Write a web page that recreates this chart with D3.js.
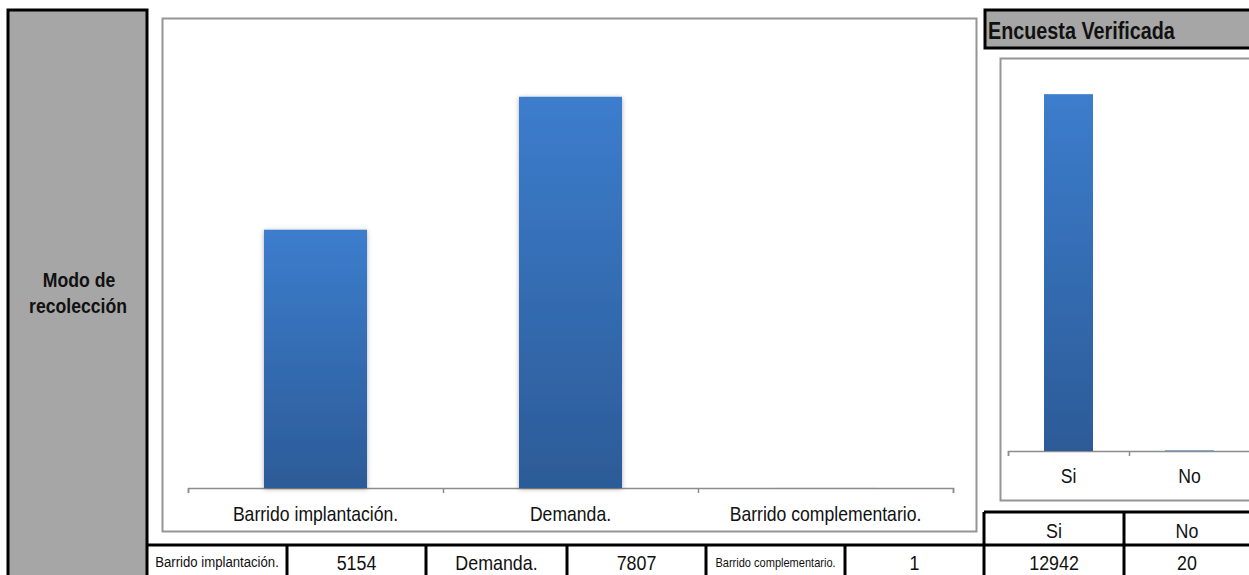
<!DOCTYPE html>
<html lang="es">
<head>
<meta charset="UTF-8">
<title>Modo de recolección</title>
<script src="https://cdn.jsdelivr.net/npm/d3@7"></script>
<style>
  body { margin: 0; background: #fff; }
  svg text { font-family: "Liberation Sans Narrow", "Arial Narrow", "Liberation Sans", sans-serif; fill: #111; }
</style>
</head>
<body>
<svg width="1249" height="575"></svg>
<script>
  // data
  const categories = ['Barrido implantación.', 'Demanda.', 'Barrido complementario.'];
  const counts = [5154, 7807, 1];
  const verifyCats = ['Si', 'No'];
  const verifyCounts = [12942, 20];

  const narrow = 0.85; // no Arial Narrow here, squeeze Liberation Sans instead

  const svg = d3.select('svg');
  const defs = svg.append('defs');

  const grad = defs.append('linearGradient')
      .attr('id', 'barGrad').attr('x1', 0).attr('y1', 0).attr('x2', 0).attr('y2', 1);
  grad.append('stop').attr('offset', '0%').attr('stop-color', '#3c7dcd');
  grad.append('stop').attr('offset', '100%').attr('stop-color', '#2c5b97');

  const shadow = defs.append('filter').attr('id', 'shadow')
      .attr('x', '-20%').attr('y', '-5%').attr('width', '140%').attr('height', '110%');
  shadow.append('feDropShadow').attr('dx', 0).attr('dy', 1)
      .attr('stdDeviation', 2.5).attr('flood-color', '#000').attr('flood-opacity', 0.3);

  // text placed at (x, y) and squeezed horizontally
  function label(parent, x, y, text, size, opts = {}) {
    return parent.append('g')
        .attr('transform', `translate(${x},${y}) scale(${opts.sx || narrow},1)`)
      .append('text')
        .attr('text-anchor', opts.anchor || 'middle')
        .attr('font-size', size)
        .attr('font-weight', opts.bold ? 'bold' : null)
        .text(text);
  }

  // left grey title block
  svg.append('rect')
      .attr('x', 8).attr('y', 10).attr('width', 139).attr('height', 580)
      .attr('fill', '#a6a6a6').attr('stroke', '#000').attr('stroke-width', 3);
  label(svg, 79, 287, 'Modo de', 21, {bold: true, sx: 0.84});
  label(svg, 78, 313, 'recolección', 21, {bold: true, sx: 0.84});

  // main chart
  svg.append('rect')
      .attr('x', 162.5).attr('y', 18.5).attr('width', 814).attr('height', 513)
      .attr('fill', '#fff').attr('stroke', '#959595').attr('stroke-width', 2);

  const x = d3.scaleBand()
      .domain(categories)
      .range([188, 953])
      .paddingInner(0.596)
      .paddingOuter(0.298);

  const y = d3.scaleLinear()
      .domain([0, 9000])
      .range([488, 37]);

  const xTicks = d3.scaleLinear().domain([0, categories.length]).range([188, 953]);

  svg.append('g')
      .attr('transform', 'translate(0,488)')
      .call(d3.axisBottom(xTicks).ticks(categories.length).tickFormat('').tickSize(5).tickSizeOuter(5))
      .call(g => g.selectAll('path, line').attr('stroke', '#8c8c8c').attr('stroke-width', 1.5));

  svg.append('g')
      .attr('transform', 'translate(0,488)')
      .call(d3.axisBottom(x).tickSize(0).tickPadding(19))
      .call(g => g.select('.domain').remove())
      .call(g => g.selectAll('text')
          .attr('font-size', 20).attr('font-family', null).attr('fill', '#111')
          .attr('transform', `scale(${narrow + 0.03},1)`));

  svg.append('g')
      .selectAll('rect').data(counts).join('rect')
      .attr('x', (d, i) => x(categories[i]))
      .attr('y', d => y(d))
      .attr('width', x.bandwidth())
      .attr('height', d => y(0) - y(d))
      .attr('fill', 'url(#barGrad)')
      .attr('filter', 'url(#shadow)');

  // right panel
  svg.append('rect')
      .attr('x', 985).attr('y', 10).attr('width', 290).attr('height', 38)
      .attr('fill', '#a6a6a6').attr('stroke', '#000').attr('stroke-width', 3);
  label(svg, 988, 39, 'Encuesta Verificada', 23, {bold: true, anchor: 'start', sx: 0.86});

  svg.append('rect')
      .attr('x', 1000.5).attr('y', 58.5).attr('width', 300).attr('height', 442)
      .attr('fill', '#fff').attr('stroke', '#959595').attr('stroke-width', 2);

  const x2 = d3.scaleBand()
      .domain(verifyCats)
      .range([1008, 1250])
      .paddingInner(0.595)
      .paddingOuter(0.2975);

  const y2 = d3.scaleLinear()
      .domain([0, 14000])
      .range([451, 65]);

  const x2Ticks = d3.scaleLinear().domain([0, verifyCats.length]).range([1008, 1250]);

  svg.append('g')
      .attr('transform', 'translate(0,451)')
      .call(d3.axisBottom(x2Ticks).ticks(verifyCats.length).tickFormat('').tickSize(5).tickSizeOuter(5))
      .call(g => g.selectAll('path, line').attr('stroke', '#8c8c8c').attr('stroke-width', 1.5));

  svg.append('g')
      .attr('transform', 'translate(0,451)')
      .call(d3.axisBottom(x2).tickSize(0).tickPadding(18))
      .call(g => g.select('.domain').remove())
      .call(g => g.selectAll('text')
          .attr('font-size', 20).attr('font-family', null).attr('fill', '#111')
          .attr('transform', `scale(${narrow + 0.03},1)`));

  svg.append('g')
      .selectAll('rect').data(verifyCounts).join('rect')
      .attr('x', (d, i) => x2(verifyCats[i]))
      .attr('y', d => y2(d))
      .attr('width', x2.bandwidth())
      .attr('height', d => y2(0) - y2(d))
      .attr('fill', 'url(#barGrad)');

  // bottom data table
  const cells = [
    {x0: 147, x1: 287, text: categories[0], size: 15.5},
    {x0: 287, x1: 426, text: counts[0], size: 21},
    {x0: 426, x1: 567, text: categories[1], size: 21},
    {x0: 567, x1: 706, text: counts[1], size: 21},
    {x0: 706, x1: 845, text: categories[2], size: 13},
    {x0: 845, x1: 984, text: counts[2], size: 21},
    {x0: 984, x1: 1124, text: verifyCounts[0], size: 21},
    {x0: 1124, x1: 1264, text: verifyCounts[1], size: 21}
  ];
  const head = [
    {x0: 984, x1: 1124, text: verifyCats[0]},
    {x0: 1124, x1: 1264, text: verifyCats[1]}
  ];

  const table = svg.append('g');
  table.append('rect')
      .attr('x', 984).attr('y', 512).attr('width', 280).attr('height', 80)
      .attr('fill', '#fff');
  table.append('line')
      .attr('x1', 147).attr('x2', 1249).attr('y1', 545).attr('y2', 545)
      .attr('stroke', '#000').attr('stroke-width', 3);
  table.append('line')
      .attr('x1', 984).attr('x2', 1249).attr('y1', 512).attr('y2', 512)
      .attr('stroke', '#000').attr('stroke-width', 3);
  table.selectAll('line.v').data([287, 426, 567, 706, 845]).join('line')
      .attr('x1', d => d).attr('x2', d => d).attr('y1', 545).attr('y2', 575)
      .attr('stroke', '#000').attr('stroke-width', 3);
  table.selectAll('line.v2').data([984, 1124]).join('line')
      .attr('x1', d => d).attr('x2', d => d).attr('y1', 512).attr('y2', 575)
      .attr('stroke', '#000').attr('stroke-width', 3);
  cells.forEach(c => {
    const cx = (c.x0 + c.x1) / 2 + (c.x1 > 1249 ? -7 : 0);
    label(table, cx, c.size < 17 ? 567 : 570, c.text, c.size);
  });
  head.forEach(c => {
    const cx = (c.x0 + c.x1) / 2 + (c.x1 > 1249 ? -7 : 0);
    label(table, cx, 538, c.text, 21);
  });
</script>
</body>
</html>
